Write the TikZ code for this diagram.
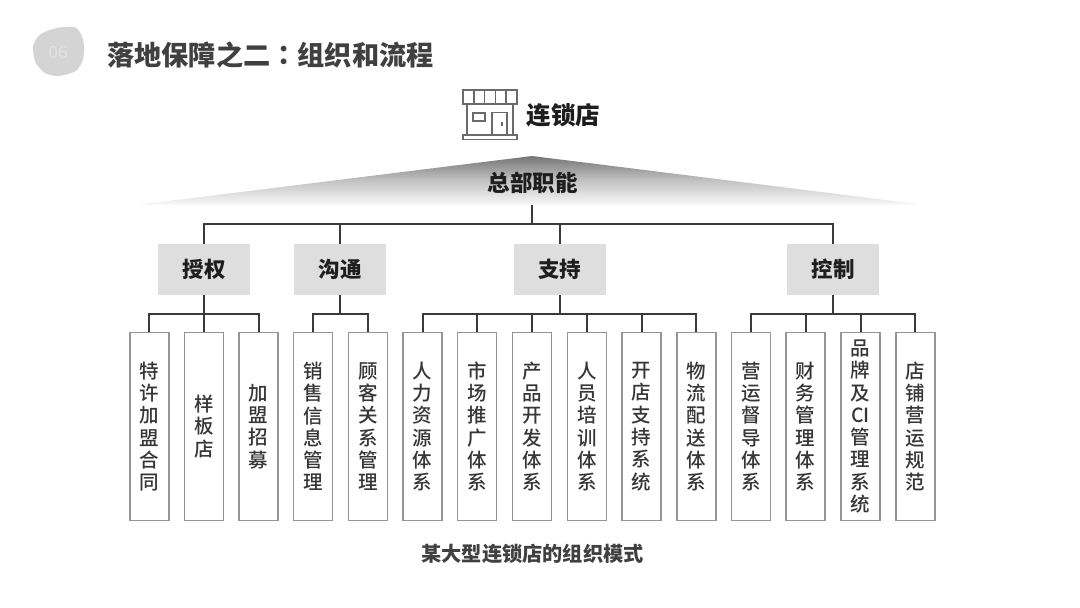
\documentclass[tikz,border=0pt]{standalone}
\usepackage{fontspec}
\setmainfont{Noto Sans CJK SC}
\newfontfamily\leaffont{Noto Sans CJK SC Medium}
\newfontfamily\tcfont{Noto Sans CJK TC}
\definecolor{ink}{HTML}{404040}
\definecolor{dark}{HTML}{1E1E1E}
\definecolor{wire}{HTML}{3A3A3A}
\definecolor{frame}{HTML}{959595}
\definecolor{catfill}{HTML}{DEDEDE}
\definecolor{iconc}{HTML}{6A6A6A}
\tikzset{
  leafbox/.style={draw=frame,line width=1.9pt,fill=white,minimum width=39pt,minimum height=188pt,inner sep=0pt,align=center,text=ink!85!black,font=\fontsize{19.5}{22.3}\leaffont\selectfont},
  catbox/.style={fill=catfill,minimum width=92pt,minimum height=51.5pt,inner sep=0pt,text=dark,font=\fontsize{21.5}{24}\selectfont\bfseries},
  conn/.style={draw=wire,line width=2pt},
  iconline/.style={draw=iconc,line width=1.7pt},
  heading/.style={inner sep=0pt,text=ink,font=\fontsize{27.2}{30}\selectfont\bfseries},
}
\begin{document}
\begin{tikzpicture}[x=1pt,y=-1pt]
\useasboundingbox (0,0) rectangle (1080,608);
\fill[white] (0,0) rectangle (1080,608);
% badge
\fill[fill=black!17] plot[smooth cycle,tension=0.8] coordinates {(35,41) (47,31) (68,27) (79,31) (84,48) (80,66) (68,74) (50,75) (38,66) (33.5,54)};
\node[inner sep=0pt,text=black!11,font=\fontsize{17}{20}\selectfont] (badge) at (58,52) {06};
\node[heading,anchor=west] (title) at (107,55) {落地保障之二{\tcfont ：}组织和流程};
% icon
\draw[iconline] (463,90) rectangle (517,104);
\foreach \x in {474,484.5,495.5,506} \draw[iconline] (\x,90) -- (\x,104);
\draw[iconline] (467,104) -- (467,135);
\draw[iconline] (513,104) -- (513,135);
\draw[iconline] (463,135) rectangle (517,139.5);
\draw[iconline] (473,113) rectangle (485,121);
\draw[iconline] (492,135) -- (492,112.5) -- (507,112.5) -- (507,135);
\draw[iconc,line width=1.2pt] (502,122) -- (502,125.5);
\node[inner sep=0pt,text=dark,anchor=west,font=\fontsize{24.5}{27}\selectfont\bfseries] (store) at (526.5,115.5) {连锁店};
% pyramid
\shade[top color=black!54,bottom color=black!3,middle color=black!24] (532,156) -- (922,204.5) -- (140,204.5) -- cycle;
\node[inner sep=0pt,text=dark,font=\fontsize{22.5}{25}\selectfont\bfseries] (hq) at (532.5,183) {总部职能};
\coordinate (hqbase) at (532,204.5);
\coordinate (topbus) at (532,223.5);
% categories
\node[catbox] (c1) at (204,269.5) {授权};
\node[catbox] (c2) at (340,269.5) {沟通};
\node[catbox] (c3) at (559.5,269.5) {支持};
\node[catbox] (c4) at (833,269.5) {控制};
% leaves
\node[leafbox] (a1) at (149.3,426.5) {特\\许\\加\\盟\\合\\同};
\node[leafbox] (a2) at (204,426.5) {样\\板\\店};
\node[leafbox] (a3) at (258.5,426.5) {加\\盟\\招\\募};
\node[leafbox] (b1) at (313,426.5) {销\\售\\信\\息\\管\\理};
\node[leafbox] (b2) at (368,426.5) {顾\\客\\关\\系\\管\\理};
\node[leafbox] (s1) at (422.5,426.5) {人\\力\\资\\源\\体\\系};
\node[leafbox] (s2) at (477,426.5) {市\\场\\推\\广\\体\\系};
\node[leafbox] (s3) at (532,426.5) {产\\品\\开\\发\\体\\系};
\node[leafbox] (s4) at (587,426.5) {人\\员\\培\\训\\体\\系};
\node[leafbox] (s5) at (641.5,426.5) {开\\店\\支\\持\\系\\统};
\node[leafbox] (s6) at (696.3,426.5) {物\\流\\配\\送\\体\\系};
\node[leafbox] (k1) at (751,426.5) {营\\运\\督\\导\\体\\系};
\node[leafbox] (k2) at (805.5,426.5) {财\\务\\管\\理\\体\\系};
\node[leafbox] (k3) at (860.5,426.5) {品\\牌\\及\\CI\\管\\理\\系\\统};
\node[leafbox] (k4) at (915.3,426.5) {店\\铺\\营\\运\\规\\范};
\node[inner sep=0pt,text=ink,font=\fontsize{20.2}{23}\selectfont\bfseries] (caption) at (532.5,553.5) {某大型连锁店的组织模式};
% connectors
\draw[conn] (hqbase) -- (topbus);
\foreach \c in {c1,c2,c3,c4} \draw[conn] (\c.north) |- (topbus);
\coordinate (ba) at (c1.south |- 0,313.5);
\coordinate (bb) at (c2.south |- 0,313.5);
\coordinate (bs) at (c3.south |- 0,313.5);
\coordinate (bk) at (c4.south |- 0,313.5);
\draw[conn] (c1.south) -- (ba);
\draw[conn] (c2.south) -- (bb);
\draw[conn] (c3.south) -- (bs);
\draw[conn] (c4.south) -- (bk);
\foreach \l in {a1,a2,a3} \draw[conn] (\l.north) |- (ba);
\foreach \l in {b1,b2} \draw[conn] (\l.north) |- (bb);
\foreach \l in {s1,s2,s3,s4,s5,s6} \draw[conn] (\l.north) |- (bs);
\foreach \l in {k1,k2,k3,k4} \draw[conn] (\l.north) |- (bk);
\end{tikzpicture}
\end{document}
